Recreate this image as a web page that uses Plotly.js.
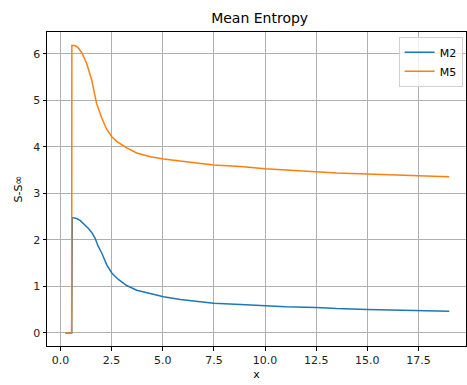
<!DOCTYPE html>
<html>
<head>
<meta charset="utf-8">
<script src="https://cdn.plot.ly/plotly-3.0.1.min.js"></script>
<style>html,body{margin:0;padding:0;background:#fff;}#chart{width:467px;height:385px;}</style>
</head>
<body>
<div id="chart"></div>
<script>
const xM2 = [0.25, 0.4, 0.55, 0.58, 0.79, 0.96, 1.12, 1.36, 1.53, 1.69, 1.85, 2.02, 2.26, 2.51, 2.83, 3.24, 3.73, 4.39, 5.04, 5.86, 6.5, 7.0, 7.49, 8.8, 10.0, 11.0, 12.5, 13.5, 15.0, 16.0, 17.5, 19.0];
const yM2 = [0, 0, 0, 2.48, 2.46, 2.42, 2.36, 2.25, 2.16, 2.04, 1.86, 1.72, 1.47, 1.29, 1.15, 1.02, 0.92, 0.85, 0.78, 0.72, 0.69, 0.67, 0.64, 0.61, 0.58, 0.565, 0.55, 0.525, 0.505, 0.495, 0.48, 0.465];
const xM5 = [0.25, 0.4, 0.55, 0.56, 0.7, 0.85, 1.04, 1.28, 1.53, 1.77, 2.02, 2.26, 2.51, 2.75, 3.24, 3.73, 4.39, 5.04, 5.5, 6.35, 7.49, 8.8, 10.0, 11.0, 12.5, 13.5, 15.0, 16.0, 17.5, 19.0];
const yM5 = [0, 0, 0, 6.18, 6.18, 6.14, 6.03, 5.80, 5.44, 4.93, 4.62, 4.38, 4.22, 4.12, 3.98, 3.87, 3.79, 3.74, 3.71, 3.67, 3.61, 3.58, 3.53, 3.50, 3.46, 3.44, 3.42, 3.40, 3.38, 3.36];
const xTicks = [0, 2.5, 5, 7.5, 10, 12.5, 15, 17.5];
const xTickText = ["0.0", "2.5", "5.0", "7.5", "10.0", "12.5", "15.0", "17.5"];
const yTicks = [0, 1, 2, 3, 4, 5, 6];

const font = {family: "DejaVu Sans, sans-serif", size: 11, color: "#000"};
const data = [
  {x: xM2, y: yM2, name: "M2", mode: "lines", line: {color: "#1f77b4", width: 1.5}},
  {x: xM5, y: yM5, name: "M5", mode: "lines", line: {color: "#ff7f0e", width: 1.5}}
];
const axisCommon = {
  showline: true, linecolor: "#000", linewidth: 1, mirror: true,
  showgrid: true, gridcolor: "#b0b0b0", gridwidth: 1,
  ticks: "outside", ticklen: 3.5, tickcolor: "#000", tickwidth: 1,
  zeroline: false, tickfont: {family: font.family, size: 11, color: "#222"}
};
const layout = {
  width: 467, height: 385,
  margin: {l: 47, r: 1, t: 32, b: 39},
  paper_bgcolor: "#fff", plot_bgcolor: "#fff",
  font: font,
  title: {text: "Mean Entropy", font: {family: font.family, size: 14, color: "#000"}, x: 0.556, xanchor: "center", y: 0.967, yanchor: "top"},
  xaxis: Object.assign({}, axisCommon, {
    range: [-0.655, 19.82], tickvals: xTicks, ticktext: xTickText,
    title: {text: "x", font: {family: font.family, size: 11, color: "#000"}, standoff: 4}
  }),
  yaxis: Object.assign({}, axisCommon, {
    range: [-0.28, 6.47], tickvals: yTicks,
    title: {text: "S-S∞", font: {family: font.family, size: 11, color: "#000"}, standoff: 8}
  }),
  legend: {
    x: 0.992, y: 0.985, xanchor: "right", yanchor: "top",
    bgcolor: "rgba(255,255,255,0.8)", bordercolor: "#d0d0d0", borderwidth: 1,
    font: {family: font.family, size: 11, color: "#000"}
  },
  showlegend: true
};
Plotly.newPlot("chart", data, layout, {displayModeBar: false, staticPlot: true});
</script>
</body>
</html>
